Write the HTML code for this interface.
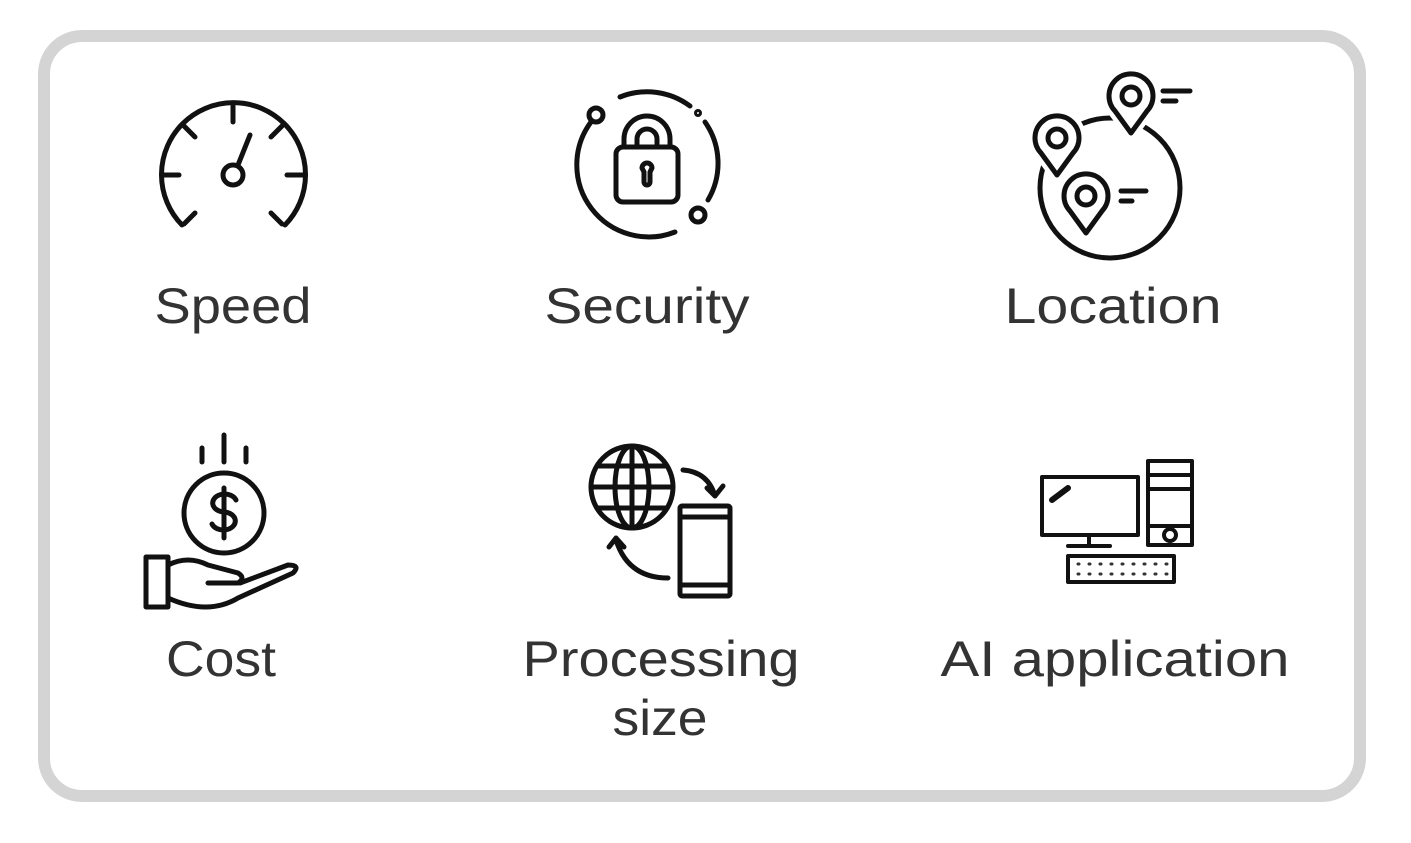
<!DOCTYPE html>
<html><head><meta charset="utf-8"><style>
html,body{margin:0;padding:0;background:#fff;}
svg{display:block}
text{font-family:"Liberation Sans",sans-serif;font-size:50px;fill:#333;text-anchor:middle}
</style></head><body>
<svg width="1411" height="843" viewBox="0 0 1411 843">
<rect x="44" y="36" width="1316" height="760" rx="38" fill="#fff" stroke="#d4d4d4" stroke-width="12"/>
<g fill="none" stroke="#111" stroke-width="5" stroke-linecap="round" stroke-linejoin="round">
<!-- speed -->
<path d="M182 225 A72 72 0 1 1 285 225"/>
<line x1="233" y1="106" x2="233" y2="122"/>
<line x1="163" y1="175" x2="179" y2="175"/>
<line x1="287" y1="175" x2="303" y2="175"/>
<line x1="184" y1="126" x2="195" y2="137"/>
<line x1="282" y1="126" x2="271" y2="137"/>
<line x1="184" y1="224" x2="195" y2="213"/>
<line x1="282" y1="224" x2="271" y2="213"/>
<circle cx="233" cy="175" r="10"/>
<line x1="238" y1="165" x2="250" y2="135"/>
<!-- security -->
<path d="M620 97 A72 72 0 0 1 690 106"/>
<path d="M705 122 A72 72 0 0 1 708 200"/>
<path d="M675 232 A72 72 0 0 1 591 122"/>
<circle cx="698" cy="113" r="1.5"/>
<circle cx="596" cy="115" r="7"/>
<circle cx="698" cy="215" r="7"/>
<rect x="616" y="147" width="62" height="55" rx="7"/>
<path d="M624 147 v-8 a23 23 0 0 1 46 0 v8"/>
<path d="M637 147 v-8 a10 10 0 0 1 20 0 v8"/>
<path d="M642 168 a5 5 0 1 1 10 0 l-2 4 v10 a3 3 0 0 1 -6 0 v-10z"/>
<!-- location -->
<circle cx="1110" cy="188" r="70"/>
<g stroke="#fff" stroke-width="14" fill="#fff">
<path d="M1131 133 l-16 -22 a22 22 0 1 1 32 0z"/>
<path d="M1057 175 l-16 -22 a22 22 0 1 1 32 0z"/>
<path d="M1086 233 l-16 -22 a22 22 0 1 1 32 0z"/>
</g>
<path d="M1131 133 l-16 -22 a22 22 0 1 1 32 0z" fill="#fff"/>
<circle cx="1131" cy="96" r="9"/>
<line x1="1163" y1="91" x2="1190" y2="91"/><line x1="1163" y1="101" x2="1176" y2="101"/>
<path d="M1057 175 l-16 -22 a22 22 0 1 1 32 0z" fill="#fff"/>
<circle cx="1057" cy="138" r="9"/>
<path d="M1086 233 l-16 -22 a22 22 0 1 1 32 0z" fill="#fff"/>
<circle cx="1086" cy="196" r="9"/>
<line x1="1121" y1="191" x2="1146" y2="191"/><line x1="1121" y1="201" x2="1132" y2="201"/>
<!-- cost -->
<line x1="224" y1="435" x2="224" y2="462"/>
<line x1="202" y1="448" x2="202" y2="462"/>
<line x1="246" y1="448" x2="246" y2="462"/>
<circle cx="224" cy="513" r="40"/>
<path d="M236 500 a12 9 0 1 0 -12 12 a12 9 0 1 1 -12 12 M224 488 v50"/>
<rect x="146" y="557" width="22" height="50"/>
<path d="M168 565 q20 -10 40 0 l30 8 q8 5 0 10 l-30 0 M168 598 q40 18 70 0 l55 -25 q8 -8 -5 -8 l-48 18"/>
<!-- processing -->
<circle cx="632" cy="487" r="41"/>
<ellipse cx="632" cy="487" rx="17" ry="41"/>
<line x1="632" y1="446" x2="632" y2="528"/>
<line x1="591" y1="487" x2="673" y2="487"/>
<path d="M597 466 h70 M597 508 h70"/>
<rect x="680" y="506" width="50" height="90" rx="2"/>
<line x1="680" y1="517" x2="730" y2="517"/><line x1="680" y1="585" x2="730" y2="585"/>
<path d="M683 470 q25 2 32 26 M707 488 l8 8 8 -10"/>
<path d="M668 578 q-40 0 -52 -38 M609 547 l7 -9 8 9"/>
<!-- AI -->
<rect x="1042" y="477" width="96" height="58" stroke-width="4"/>
<rect x="1148" y="461" width="44" height="84" stroke-width="4"/>
<line x1="1148" y1="475" x2="1192" y2="475" stroke-width="4"/>
<line x1="1148" y1="489" x2="1192" y2="489" stroke-width="4"/>
<line x1="1148" y1="526" x2="1192" y2="526" stroke-width="4"/>
<circle cx="1170" cy="535" r="6" stroke-width="4"/>
<line x1="1089" y1="535" x2="1089" y2="545" stroke-width="4"/>
<line x1="1068" y1="546" x2="1110" y2="546" stroke-width="4"/>
<rect x="1068" y="556" width="106" height="26" stroke-width="4"/>
<line x1="1052" y1="500" x2="1068" y2="488" stroke-width="6"/>
</g>
<g stroke="#333" stroke-width="3" stroke-linecap="round" stroke-dasharray="1 10">
<line x1="1078" y1="564" x2="1168" y2="564"/>
<line x1="1078" y1="574" x2="1168" y2="574"/>
</g>
<text x="233" y="323" textLength="157" lengthAdjust="spacingAndGlyphs">Speed</text>
<text x="647" y="323" textLength="205" lengthAdjust="spacingAndGlyphs">Security</text>
<text x="1113" y="323" textLength="217" lengthAdjust="spacingAndGlyphs">Location</text>
<text x="221" y="676" textLength="110" lengthAdjust="spacingAndGlyphs">Cost</text>
<text x="661" y="676" textLength="277" lengthAdjust="spacingAndGlyphs">Processing</text>
<text x="660" y="735" textLength="95" lengthAdjust="spacingAndGlyphs">size</text>
<text x="1115" y="676" textLength="349" lengthAdjust="spacingAndGlyphs">AI application</text>
</svg>
</body></html>
